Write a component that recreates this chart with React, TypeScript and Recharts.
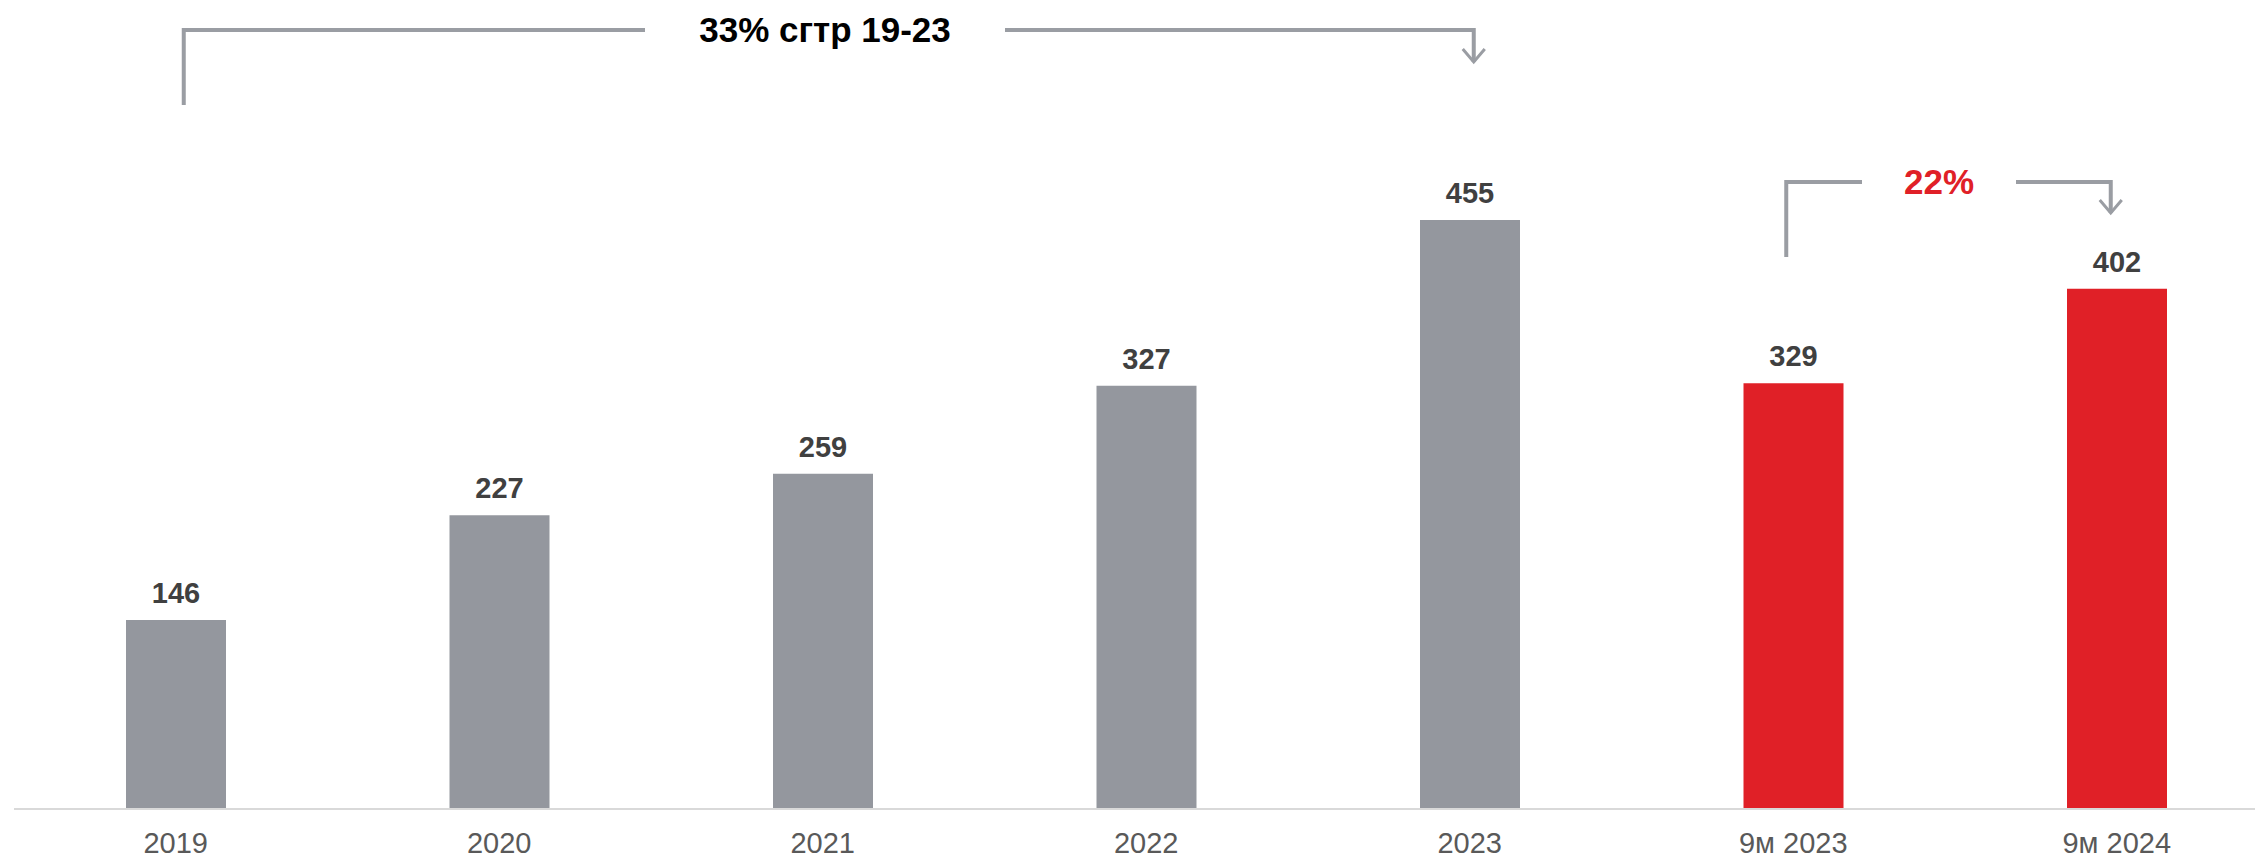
import React from "react";
import { BarChart, Bar, XAxis, YAxis, Cell, LabelList } from "recharts";

const categories = ["2019", "2020", "2021", "2022", "2023", "9м 2023", "9м 2024"];
const values = [146, 227, 259, 327, 455, 329, 402];
const highlighted = [false, false, false, false, false, true, true];

const cagrText = "33% сгтр 19-23";
const growthText = "22%";

const data = categories.map((name, i) => ({
	name,
	value: values[i],
	hl: highlighted[i],
}));

const W = 2255;
const H = 858;
const PLOT_LEFT = 14;
const BAND = 323.5;
const CHART_W = PLOT_LEFT + BAND * categories.length;
const FONT = '"Liberation Sans", Arial, Helvetica, sans-serif';
const GREY = "#94979e";
const RED = "#e02027";
const LINE = "#9a9da3";

const center = (i: number) => PLOT_LEFT + BAND * (i + 0.5);

type BracketProps = {
	x1: number;
	x2: number;
	top: number;
	startY: number;
	endY: number;
	textX: number;
	gap: number;
	text: string;
	color: string;
};

function Bracket({ x1, x2, top, startY, endY, textX, gap, text, color }: BracketProps) {
	return (
		<g>
			<polyline
				points={`${x1},${startY} ${x1},${top} ${textX - gap},${top}`}
				fill="none"
				stroke={LINE}
				strokeWidth={4}
			/>
			<polyline
				points={`${textX + gap},${top} ${x2},${top} ${x2},${endY}`}
				fill="none"
				stroke={LINE}
				strokeWidth={4}
			/>
			<polyline
				points={`${x2 - 11},${endY - 13} ${x2},${endY} ${x2 + 11},${endY - 13}`}
				fill="none"
				stroke={LINE}
				strokeWidth={3}
			/>
			<text
				x={textX}
				y={top + 12}
				textAnchor="middle"
				fontFamily={FONT}
				fontWeight="bold"
				fontSize={35}
				fill={color}
			>
				{text}
			</text>
		</g>
	);
}

function YearTick(props: any) {
	const { x, y, payload } = props;
	return (
		<text
			x={x}
			y={y + 44}
			textAnchor="middle"
			fontFamily={FONT}
			fontSize={29}
			fill="#595959"
		>
			{payload.value}
		</text>
	);
}

export default function App() {
	return (
		<div
			style={{
				position: "fixed",
				left: 0,
				top: 0,
				width: W,
				height: H,
				overflow: "hidden",
				background: "#fff",
			}}
		>
			<BarChart
				width={CHART_W}
				height={H}
				data={data}
				margin={{ top: 0, right: 0, left: PLOT_LEFT, bottom: 0 }}
			>
				<XAxis
					dataKey="name"
					height={49}
					tickLine={false}
					tickSize={0}
					tickMargin={0}
					axisLine={{ stroke: "#d9d9d9", strokeWidth: 2 }}
					tick={<YearTick />}
					interval={0}
				/>
				<YAxis hide domain={[0, 625]} />
				<Bar dataKey="value" barSize={100} isAnimationActive={false}>
					{data.map((d, i) => (
						<Cell key={`c-${i}`} fill={d.hl ? RED : GREY} />
					))}
					<LabelList
						dataKey="value"
						position="top"
						offset={17}
						fill="#404040"
						fontSize={29}
						fontWeight="bold"
						fontFamily={FONT}
					/>
				</Bar>
			</BarChart>
			<svg
				width={W}
				height={H}
				style={{ position: "absolute", left: 0, top: 0, pointerEvents: "none" }}
			>
				<Bracket
					x1={center(0) + 8}
					x2={center(4) + 4}
					top={30}
					startY={105}
					endY={62}
					textX={825}
					gap={180}
					text={cagrText}
					color="#000"
				/>
				<Bracket
					x1={center(5) - 7}
					x2={center(6) - 6}
					top={182}
					startY={257}
					endY={213}
					textX={1939}
					gap={77}
					text={growthText}
					color={RED}
				/>
			</svg>
		</div>
	);
}
